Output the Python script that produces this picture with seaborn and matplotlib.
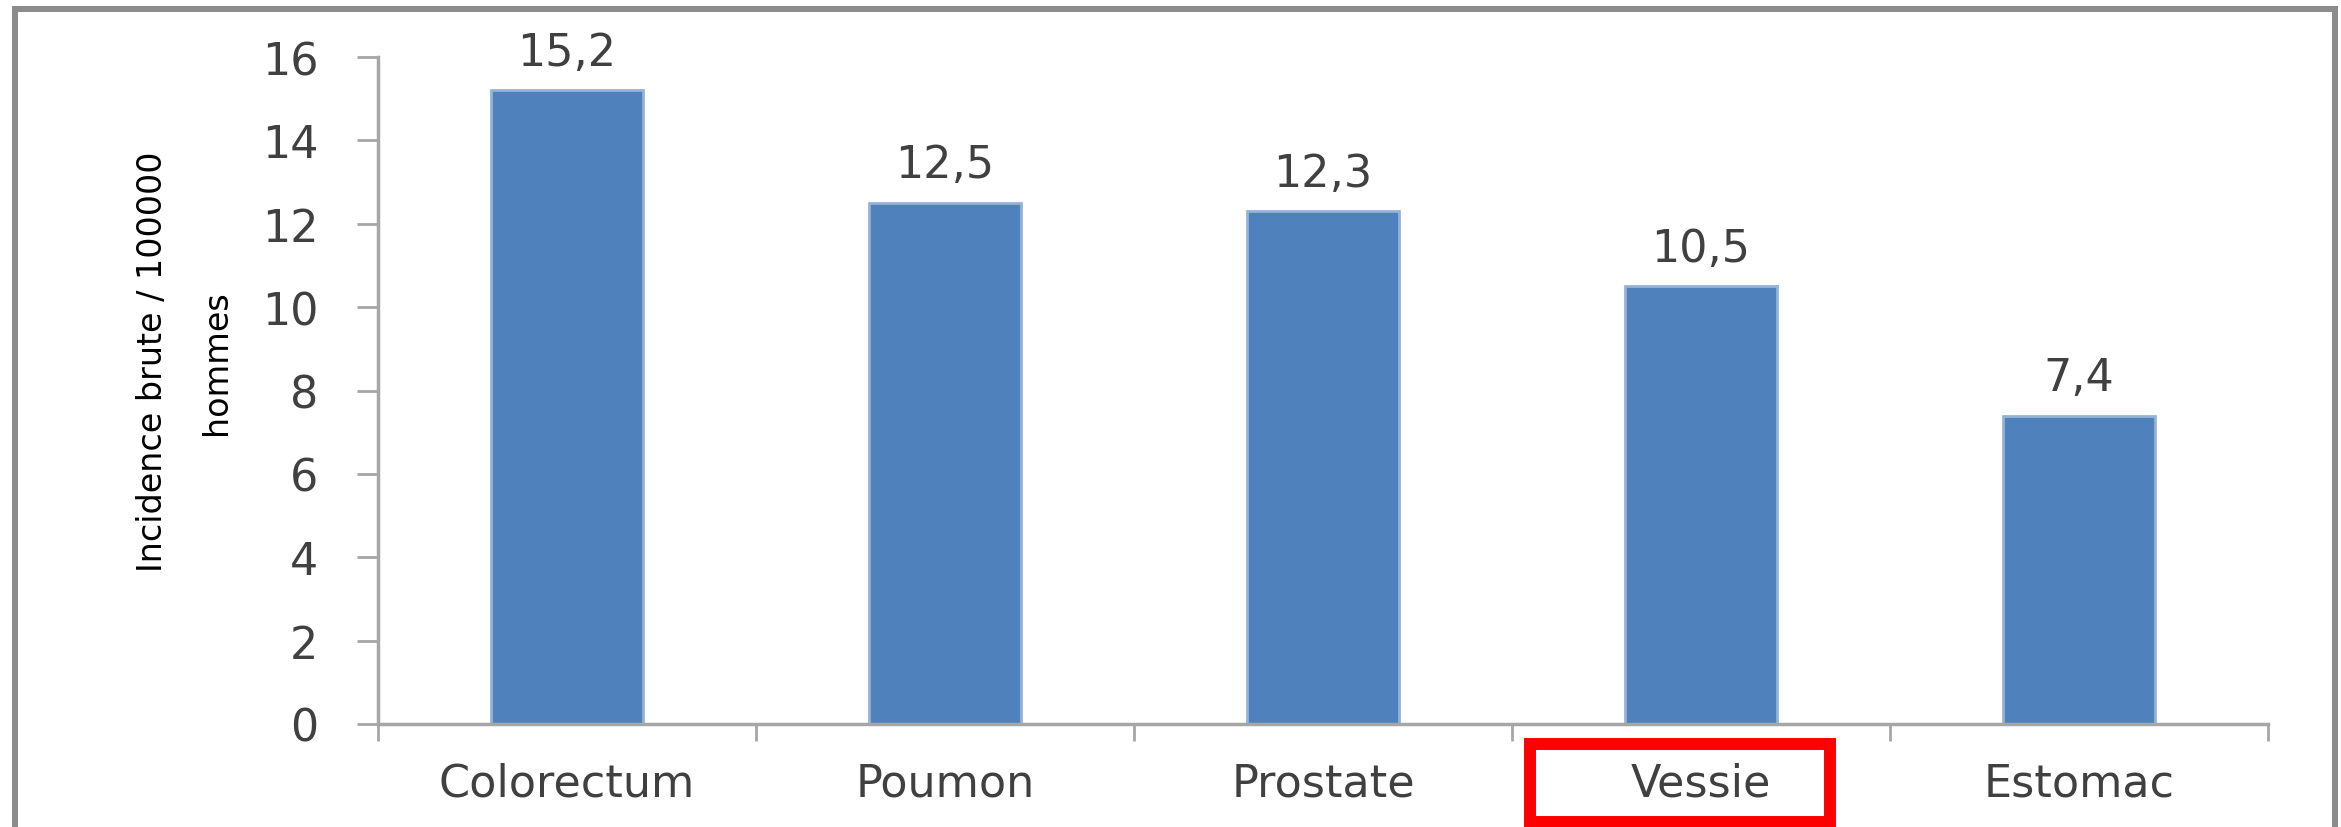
import numpy as np
import pandas as pd
import seaborn as sns
import matplotlib
matplotlib.use('Agg')
import matplotlib.pyplot as plt
from matplotlib.patches import Rectangle

# données
sites = ['Colorectum', 'Poumon', 'Prostate', 'Vessie', 'Estomac']
incidence = [15.2, 12.5, 12.3, 10.5, 7.4]
yticks = [0, 2, 4, 6, 8, 10, 12, 14, 16]
ylabel = 'Incidence brute / 100000\nhommes'
highlight = 'Vessie'

sns.set_style('white')
plt.rcParams['font.family'] = ['DejaVu Sans']

df = pd.DataFrame({'site': sites, 'incidence': incidence})

W, H = 2341, 828
fig = plt.figure(figsize=(W / 100, H / 100), dpi=100)
ax = fig.add_axes([378 / W, 103 / H, 1890 / W, 667 / H])

bar_blue = '#4F81BD'
grey = '#A6A6A6'
txt = '#404040'
fs = 32

sns.barplot(data=df, x='site', y='incidence', color=bar_blue, saturation=1,
            width=0.4, edgecolor='#95B3D7', linewidth=2, ax=ax)

# étiquettes de valeur avec virgule décimale
ax.bar_label(ax.containers[0],
             labels=[('%.1f' % v).replace('.', ',') for v in incidence],
             padding=12, fontsize=fs, color=txt)

ax.set_ylim(0, 16)
ax.set_xlim(-0.5, len(sites) - 0.5)
ax.set_yticks(yticks)
ax.set_yticklabels([str(t) for t in yticks])
ax.set_xticks(np.arange(len(sites)))
ax.set_xticklabels(sites)
ax.set_xticks(np.arange(-0.5, len(sites), 1), minor=True)

ax.tick_params(axis='y', which='major', length=15, width=2, color=grey,
               direction='out', pad=28, labelsize=fs, labelcolor=txt, left=True)
ax.tick_params(axis='x', which='major', length=0, pad=27,
               labelsize=fs, labelcolor=txt)
ax.tick_params(axis='x', which='minor', length=12, width=2, color=grey,
               direction='out', bottom=True)

ax.set_xlabel('')
ax.set_ylabel(ylabel, fontsize=24, color='black', linespacing=2.2)
ax.yaxis.set_label_coords(-0.0767, 0.544)

for s in ['top', 'right']:
    ax.spines[s].set_visible(False)
for s in ['left', 'bottom']:
    ax.spines[s].set_color(grey)
    ax.spines[s].set_linewidth(2.5)

ax.grid(False)

# cadre gris autour du graphique
frame = Rectangle((15 / W, -0.1), 2320 / W, 1.1 - 10 / H,
                  transform=fig.transFigure, fill=False,
                  edgecolor='#8C8C8C', linewidth=4.3, clip_on=False)
fig.patches.append(frame)

# encadré rouge autour de la catégorie mise en évidence
box = Rectangle((1530 / W, 5 / H), 300 / W, 78 / H,
                transform=fig.transFigure, fill=False,
                edgecolor='#FF0000', linewidth=8.6, clip_on=False)
fig.patches.append(box)

fig.savefig('out.png', dpi=100)
